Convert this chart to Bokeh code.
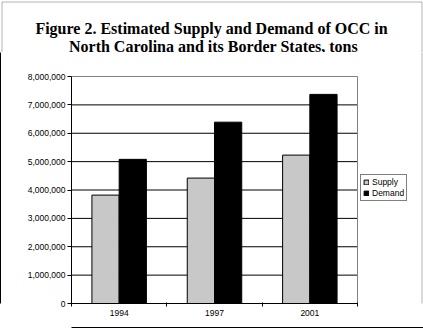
from bokeh.plotting import figure
from bokeh.layouts import column
from bokeh.models import (ColumnDataSource, FixedTicker, Label, BoxAnnotation, LinearAxis,
                          Legend, LegendItem, NumeralTickFormatter)
from bokeh.transform import dodge
from bokeh.embed import file_html
from bokeh.resources import INLINE

# ---- data ----
years = ["1994", "1997", "2001"]
supply = [3820000, 4420000, 5230000]
demand = [5080000, 6390000, 7370000]
y_ticks = [0, 1000000, 2000000, 3000000, 4000000, 5000000, 6000000, 7000000, 8000000]
series_names = ["Supply", "Demand"]
title_lines = ["Figure 2.  Estimated Supply and Demand of OCC in",
               "North Carolina and its Border States, tons"]

# ---- layout (pixels on the page) ----
W, H = 423, 330
TH = 52                    # height of the title strip
ML, MB = 71, 27            # left / bottom panel sizes of the chart
PL, PR, PT, PB = 71, 357, 76, 303   # plot-area box on the page
XPU = (PR - PL) / len(years)                    # pixels per category
YPU = (PB - PT) / (y_ticks[-1] - y_ticks[0])    # pixels per ton

def xd(px):   # page x -> data x
    return (px - PL) / XPU

def yd(py):   # page y -> data y
    return (PB - py) / YPU

# ---- title strip (its own figure, pixel coordinates, y downwards) ----
tf = figure(width=W, height=TH, x_range=(0, W), y_range=(TH, 0),
            x_axis_type=None, y_axis_type=None, title=None,
            output_backend="svg", toolbar_location=None, min_border=0)
tf.outline_line_color = None
tf.grid.visible = False
tf.background_fill_color = "white"
tf.border_fill_color = "white"
for i, t in enumerate(title_lines):
    tf.add_layout(Label(x=213, y=28 + 18 * i, text=t,
                        text_align="center", text_baseline="alphabetic",
                        text_font="Liberation Serif", text_font_style="bold",
                        text_font_size="16px", text_color="black"))
tf.add_layout(BoxAnnotation(left=1.5, right=421.5, top=1.5, bottom=TH + 10,
                            fill_alpha=0, line_color="black", line_width=1))

# ---- chart ----
p = figure(width=W, height=H - TH, title=None,
           x_range=(0, xd(W)), y_range=(y_ticks[0], yd(TH)),
           output_backend="svg", toolbar_location=None,
           min_border_left=ML, min_border_right=0, min_border_top=0, min_border_bottom=MB)
p.background_fill_color = "white"
p.border_fill_color = "white"
p.outline_line_color = None
p.xgrid.visible = False
p.ygrid.visible = False

# keep the title strip's frame independent of the chart's frame
try:
    tf.frame_align = False
    p.frame_align = False
except AttributeError:
    pass

n = len(years)
grid_src = ColumnDataSource(dict(x0=[0] * (len(y_ticks) - 2), x1=[n] * (len(y_ticks) - 2),
                                 y=y_ticks[1:-1]))
p.segment(x0="x0", x1="x1", y0="y", y1="y", source=grid_src, line_color="black", line_width=1)
p.segment(x0=[0, n], x1=[n, n], y0=[y_ticks[-1], y_ticks[0]], y1=[y_ticks[-1], y_ticks[-1]],
          line_color="#808080", line_width=1)

pos = [i + 0.5 for i in range(n)]
src = ColumnDataSource(dict(pos=pos, supply=supply, demand=demand))
bw = 1 / 3.5
r1 = p.vbar(x=dodge("pos", -bw / 2, range=p.x_range), top="supply", width=bw, source=src,
            fill_color="#C8C8C8", line_color="black", line_width=1)
r2 = p.vbar(x=dodge("pos", bw / 2, range=p.x_range), top="demand", width=bw, source=src,
            fill_color="black", line_color="black", line_width=1)

# x axis
xa = p.xaxis[0]
xa.bounds = (0, n)
xa.ticker = FixedTicker(ticks=pos, minor_ticks=list(range(n + 1)))
xa.major_label_overrides = {pp: y for pp, y in zip(pos, years)}
xa.major_tick_out = 0
xa.major_tick_in = 0
xa.minor_tick_out = 3
xa.minor_tick_in = 1
xa.minor_tick_line_color = "black"
xa.axis_line_color = "black"
xa.major_label_standoff = 3
xa.major_label_text_font = "Liberation Sans"
xa.major_label_text_font_size = "8.5px"
xa.major_label_text_color = "black"
xa.axis_label = " "
xa.axis_label_text_font_size = "1px"
xa.axis_label_standoff = 5

# y axis
ya = p.yaxis[0]
ya.bounds = (y_ticks[0], y_ticks[-1])
ya.ticker = FixedTicker(ticks=y_ticks)
ya.formatter = NumeralTickFormatter(format="0,0")
ya.major_tick_out = 4
ya.major_tick_in = 0
ya.minor_tick_out = 0
ya.minor_tick_in = 0
ya.axis_line_color = "black"
ya.major_tick_line_color = "black"
ya.major_label_standoff = 2
ya.major_label_text_font = "Liberation Sans"
ya.major_label_text_font_size = "8.5px"
ya.major_label_text_color = "black"
ya.axis_label = " "
ya.axis_label_text_font_size = "1px"
ya.axis_label_standoff = 20

# outer frame pieces
def edge_axis(bounds):
    return LinearAxis(ticker=FixedTicker(ticks=[]), bounds=bounds,
                      major_tick_out=0, major_tick_in=0, minor_tick_out=0, minor_tick_in=0,
                      major_label_text_font_size="0px", axis_line_color="black", axis_line_width=1)

p.add_layout(edge_axis((yd(H), yd(TH))), "left")
p.add_layout(edge_axis((xd(0), xd(W))), "below")
p.add_layout(BoxAnnotation(left=xd(-10), right=xd(421.5), bottom=yd(H + 10), top=yd(TH - 10),
                           fill_alpha=0, line_color="black", line_width=1))

# legend
legend = Legend(items=[LegendItem(label=series_names[0], renderers=[r1]),
                       LegendItem(label=series_names[1], renderers=[r2])],
                location=(360 - PL, PB - 201))
legend.label_text_font = "Liberation Sans"
legend.label_text_font_size = "8.5px"
legend.label_text_color = "black"
legend.glyph_width = 6
legend.glyph_height = 6
legend.label_height = 9
legend.label_standoff = 3
legend.spacing = 1
legend.padding = 2
legend.margin = 0
legend.border_line_color = "black"
legend.border_line_width = 1
legend.background_fill_color = "white"
legend.background_fill_alpha = 1
p.add_layout(legend, "center")

page = column(tf, p, spacing=0)
open("out.html", "w").write(file_html(page, INLINE))
